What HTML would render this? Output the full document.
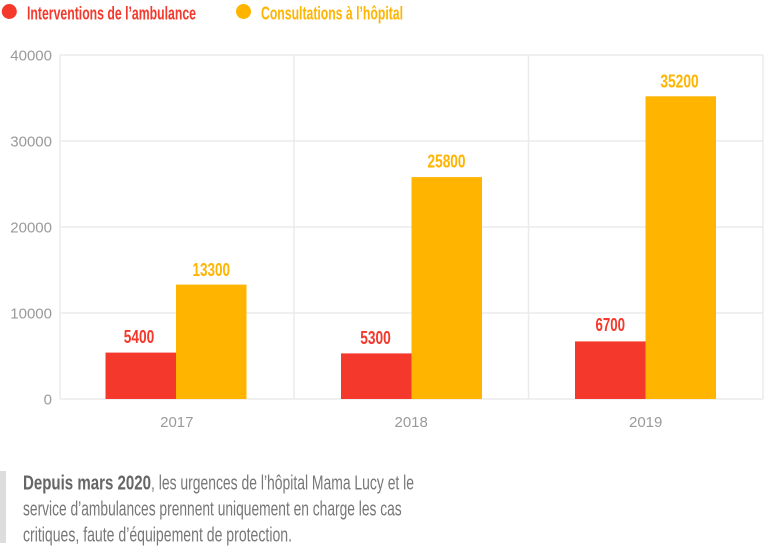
<!DOCTYPE html>
<html><head><meta charset="utf-8"><style>
html,body{margin:0;padding:0;background:#fff;}
svg{display:block;}
.c{font-family:"Liberation Sans Narrow","Liberation Sans",sans-serif;}
.ax{font-family:"Liberation Sans",sans-serif;font-size:15px;fill:#9a9a9a;}
</style></head><body>
<svg width="765" height="552" viewBox="0 0 765 552" xmlns="http://www.w3.org/2000/svg">
<!-- legend -->
<circle cx="9.3" cy="11.5" r="7.5" fill="#f5382c"/>
<text class="c" x="27" y="19.3" font-size="18" font-weight="bold" fill="#f5382c" textLength="169" lengthAdjust="spacingAndGlyphs">Interventions de l’ambulance</text>
<circle cx="243.5" cy="11.5" r="7.5" fill="#ffb400"/>
<text class="c" x="261" y="19.3" font-size="18" font-weight="bold" fill="#ffb400" textLength="142" lengthAdjust="spacingAndGlyphs">Consultations à l’hôpital</text>
<!-- grid -->
<g stroke="#ebebeb" stroke-width="1.5" fill="none">
<line x1="60" y1="55" x2="763" y2="55"/>
<line x1="60" y1="141" x2="763" y2="141"/>
<line x1="60" y1="227" x2="763" y2="227"/>
<line x1="60" y1="313" x2="763" y2="313"/>
<line x1="60" y1="399" x2="763" y2="399"/>
<line x1="60" y1="55" x2="60" y2="399"/>
<line x1="294" y1="55" x2="294" y2="399"/>
<line x1="528.5" y1="55" x2="528.5" y2="399"/>
<line x1="763" y1="55" x2="763" y2="399"/>
</g>
<!-- y labels -->
<g class="ax" text-anchor="end">
<text x="52" y="60.5">40000</text>
<text x="52" y="146.5">30000</text>
<text x="52" y="232.5">20000</text>
<text x="52" y="318.5">10000</text>
<text x="52" y="404.5">0</text>
</g>
<!-- bars -->
<rect x="105.5" y="352.6" width="70.5" height="46.4" fill="#f5382c"/>
<rect x="176" y="284.6" width="70.5" height="114.4" fill="#ffb400"/>
<rect x="341" y="353.4" width="70.5" height="45.6" fill="#f5382c"/>
<rect x="411.5" y="177.1" width="70.5" height="221.9" fill="#ffb400"/>
<rect x="575" y="341.4" width="70.5" height="57.6" fill="#f5382c"/>
<rect x="645.5" y="96.3" width="70.5" height="302.7" fill="#ffb400"/>
<!-- value labels -->
<g class="c" font-size="18.5" font-weight="bold" text-anchor="middle">
<text x="139" y="343" fill="#f5382c" textLength="30.5" lengthAdjust="spacingAndGlyphs">5400</text>
<text x="211.3" y="276" fill="#ffb400" textLength="37.5" lengthAdjust="spacingAndGlyphs">13300</text>
<text x="375.5" y="344" fill="#f5382c" textLength="30.5" lengthAdjust="spacingAndGlyphs">5300</text>
<text x="446.5" y="167.5" fill="#ffb400" textLength="38" lengthAdjust="spacingAndGlyphs">25800</text>
<text x="610.3" y="331" fill="#f5382c" textLength="29.5" lengthAdjust="spacingAndGlyphs">6700</text>
<text x="679.5" y="87.5" fill="#ffb400" textLength="38.3" lengthAdjust="spacingAndGlyphs">35200</text>
</g>
<!-- x labels -->
<g class="ax" text-anchor="middle">
<text x="176.8" y="427">2017</text>
<text x="411.2" y="427">2018</text>
<text x="645.7" y="427">2019</text>
</g>
<!-- footnote -->
<rect x="0" y="471" width="6" height="72" fill="#dddddd"/>
<text class="c" x="23" y="489.5" font-size="20" font-weight="bold" fill="#666" textLength="128" lengthAdjust="spacingAndGlyphs">Depuis mars 2020</text>
<text class="c" x="151" y="489.5" font-size="20" fill="#777" textLength="263" lengthAdjust="spacingAndGlyphs">, les urgences de l’hôpital Mama Lucy et le</text>
<text class="c" x="23" y="515.5" font-size="20" fill="#777" textLength="378.7" lengthAdjust="spacingAndGlyphs">service d’ambulances prennent uniquement en charge les cas</text>
<text class="c" x="23" y="541.5" font-size="20" fill="#777" textLength="269" lengthAdjust="spacingAndGlyphs">critiques, faute d’équipement de protection.</text>
</svg>
</body></html>
